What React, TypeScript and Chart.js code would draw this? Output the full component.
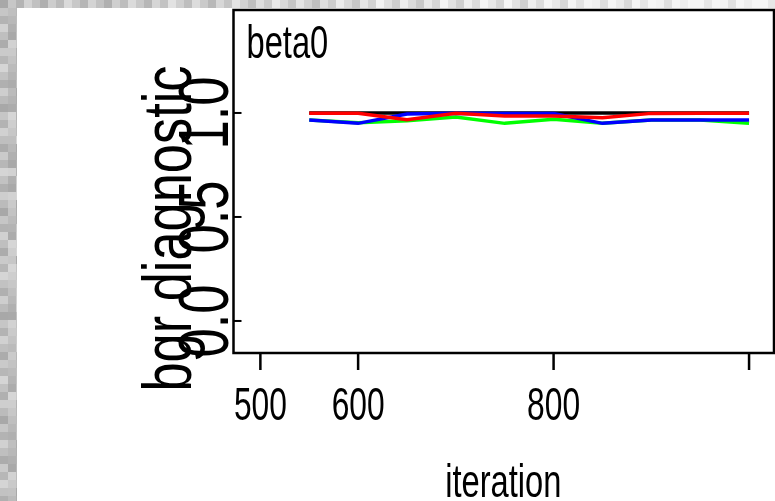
import React, { useEffect, useRef } from 'react';
import { Chart, registerables } from 'chart.js';

Chart.register(...registerables);

// ---- data ----
const iterations = [550, 600, 650, 700, 750, 800, 850, 900, 950, 1000];
const seriesRed = [0.999, 0.999, 0.968, 0.999, 0.985, 0.985, 0.977, 0.998, 0.999, 0.999];
const seriesBlue = [0.966, 0.95, 0.995, 0.999, 0.997, 0.997, 0.95, 0.966, 0.966, 0.966];
const seriesGreen = [0.966, 0.953, 0.962, 0.98, 0.95, 0.97, 0.95, 0.966, 0.966, 0.95];
const seriesBlack = [1.0, 1.0, 1.0, 1.0, 1.0, 1.0, 1.0, 1.0, 1.0, 1.0];

const xTickValues = [500, 600, 800, 1000];
const xTickLabels = ['500', '600', '800', ''];
const yTickValues = [0.0, 0.5, 1.0];
const yTickLabels = ['0.0', '0.5', '1.0'];

const panelTitle = 'beta0';
const xTitle = 'iteration';
const yTitle = 'bgr diagnostic';

const FONT = '"Liberation Sans", Arial, sans-serif';

function text(
  ctx: CanvasRenderingContext2D,
  s: string,
  x: number,
  y: number,
  size: number,
  narrow: number,
  rotated: boolean,
  align: CanvasTextAlign,
) {
  ctx.save();
  ctx.translate(x, y);
  if (rotated) ctx.rotate(-Math.PI / 2);
  ctx.scale(narrow, 1);
  ctx.font = `${size}px ${FONT}`;
  ctx.fillStyle = '#000';
  ctx.textAlign = align;
  ctx.textBaseline = 'alphabetic';
  ctx.fillText(s, 0, 0);
  ctx.restore();
}

const framePlugin = {
  id: 'frame',
  beforeDraw(chart: any) {
    const ctx: CanvasRenderingContext2D = chart.ctx;
    const W = chart.width;
    const H = chart.height;
    ctx.save();
    // textured grey margin
    const B = 8;
    for (let i = 0; i * B < W; i++) {
      for (let j = 0; j * B < H; j++) {
        const h = ((i * 73 + j * 151 + ((i * j) % 11) * 29) % 13) / 12;
        const fade = Math.min(1, (i * B) / W);
        const base = 168 + fade * 60;
        const v = Math.round(Math.min(245, base + h * 45));
        ctx.fillStyle = `rgb(${v},${v},${v})`;
        ctx.fillRect(i * B, j * B, B, B);
      }
    }
    ctx.fillStyle = '#ffffff';
    ctx.fillRect(17, 8, W - 17, H - 8);
    ctx.restore();
  },
  afterDatasetsDraw(chart: any) {
    const ctx: CanvasRenderingContext2D = chart.ctx;
    const { left, right, top, bottom } = chart.chartArea;
    const xs = chart.scales.x;
    const ys = chart.scales.y;
    ctx.save();
    // box
    ctx.strokeStyle = '#000';
    ctx.lineWidth = 2.5;
    ctx.strokeRect(left, top, right - left + 1, bottom - top);
    // x ticks (outside)
    ctx.lineWidth = 2.5;
    xTickValues.forEach((v, i) => {
      const px = xs.getPixelForValue(v);
      ctx.beginPath();
      ctx.moveTo(px, bottom);
      ctx.lineTo(px, bottom + 17);
      ctx.stroke();
      text(ctx, xTickLabels[i], px, bottom + 67, 46, 0.69, false, 'center');
    });
    // y ticks (inside)
    ctx.lineWidth = 2;
    yTickValues.forEach((v, i) => {
      const py = ys.getPixelForValue(v);
      ctx.beginPath();
      ctx.moveTo(left, py);
      ctx.lineTo(left + 8, py);
      ctx.stroke();
      text(ctx, yTickLabels[i], left - 6, py, 70, 0.75, true, 'center');
    });
    // titles
    text(ctx, panelTitle, left + 13, top + 48, 46, 0.71, false, 'left');
    text(ctx, xTitle, (left + right) / 2, bottom + 144, 46, 0.71, false, 'center');
    text(ctx, yTitle, left - 43, (top + bottom) / 2 + 47, 68, 0.77, true, 'center');
    ctx.restore();
  },
};

export default function App() {
  const ref = useRef<HTMLCanvasElement | null>(null);
  useEffect(() => {
    if (!ref.current) return;
    const mk = (vals: number[]) => iterations.map((x, i) => ({ x, y: vals[i] }));
    const ds = (label: string, vals: number[], color: string) => ({
      label,
      data: mk(vals),
      borderColor: color,
      backgroundColor: color,
      borderWidth: 3.5,
      pointRadius: 0,
      tension: 0,
      fill: false,
    });
    const chart = new Chart(ref.current, {
      type: 'line',
      data: {
        datasets: [
          ds('red', seriesRed, '#ff0000'),
          ds('blue', seriesBlue, '#0000ff'),
          ds('green', seriesGreen, '#00ff00'),
          ds('black', seriesBlack, '#000000'),
        ],
      },
      options: {
        responsive: false,
        animation: false,
        events: [],
        layout: { padding: { top: 10, right: 2, left: 0, bottom: 0 } },
        plugins: { legend: { display: false }, tooltip: { enabled: false } },
        scales: {
          x: {
            type: 'linear',
            min: 472.5,
            max: 1024.5,
            grid: { display: false },
            border: { display: false },
            ticks: { display: false },
            afterFit: (s: any) => {
              s.height = 148;
            },
          },
          y: {
            type: 'linear',
            min: -0.154,
            max: 1.495,
            grid: { display: false },
            border: { display: false },
            ticks: { display: false },
            afterFit: (s: any) => {
              s.width = 233.5;
            },
          },
        },
      },
      plugins: [framePlugin],
    });
    return () => chart.destroy();
  }, []);
  return (
    <div style={{ position: 'absolute', left: 0, top: 0, width: 775, height: 501 }}>
      <canvas ref={ref} width={775} height={501} style={{ display: 'block' }} />
    </div>
  );
}
